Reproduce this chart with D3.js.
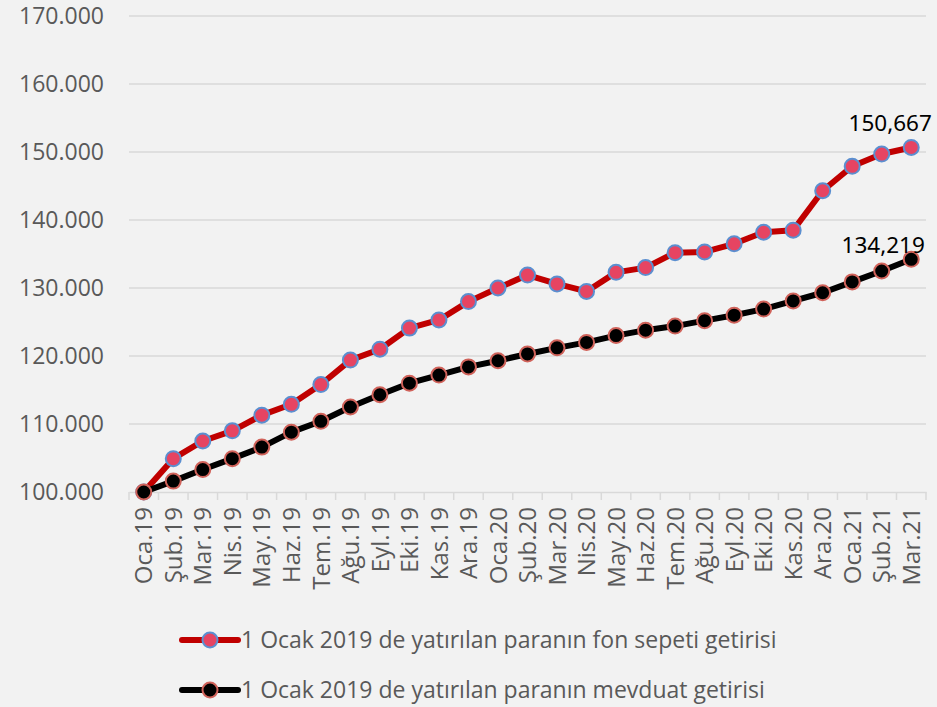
<!DOCTYPE html>
<meta charset="utf-8">
<title>Fon sepeti vs mevduat</title>
<style>
  body { margin: 0; background: #f2f2f2; }
  svg { display: block; }
  .tick-label { font-family: 'Open Sans', 'Noto Sans', sans-serif; fill: #595959; }
  .grid line { stroke: #d9d9d9; stroke-width: 1.5; }
</style>
<body>
<svg width="937" height="707"></svg>
<script src="https://cdn.jsdelivr.net/npm/d3@7"></script>
<script>
var months = ["Oca.19","Şub.19","Mar.19","Nis.19","May.19","Haz.19","Tem.19","Ağu.19","Eyl.19","Eki.19","Kas.19","Ara.19",
              "Oca.20","Şub.20","Mar.20","Nis.20","May.20","Haz.20","Tem.20","Ağu.20","Eyl.20","Eki.20","Kas.20","Ara.20",
              "Oca.21","Şub.21","Mar.21"];

var fonSepeti = [100, 104.9, 107.5, 109.0, 111.3, 112.9, 115.8, 119.4, 121.0, 124.1, 125.3, 128.0,
                 130.0, 131.9, 130.6, 129.5, 132.3, 133.0, 135.2, 135.3, 136.5, 138.2, 138.5, 144.3,
                 147.9, 149.7, 150.667];

var mevduat = [100, 101.6, 103.3, 104.9, 106.6, 108.8, 110.4, 112.5, 114.3, 116.0, 117.2, 118.4,
               119.3, 120.3, 121.2, 122.0, 123.0, 123.8, 124.4, 125.2, 126.0, 126.9, 128.1, 129.3,
               130.9, 132.5, 134.219];

var yTicks = [100, 110, 120, 130, 140, 150, 160, 170];
var yTickLabels = ["100.000","110.000","120.000","130.000","140.000","150.000","160.000","170.000"];
var legendNames = ["1 Ocak 2019 de yatırılan paranın fon sepeti getirisi",
                   "1 Ocak 2019 de yatırılan paranın mevduat getirisi"];
var endLabels = ["150,667", "134,219"];

var svg = d3.select("svg");

var x = d3.scaleBand().domain(months).range([129, 926]).padding(0);
var y = d3.scaleLinear().domain([100, 170]).range([492, 16]);
var cx = function(d, i) { return x(months[i]) + x.bandwidth() / 2; };

// grid
svg.append("g").attr("class", "grid")
  .selectAll("line").data(yTicks.slice(1)).enter().append("line")
  .attr("x1", 129).attr("x2", 926)
  .attr("y1", function(d) { return y(d); }).attr("y2", function(d) { return y(d); });

// y labels
svg.append("g").selectAll("text").data(yTicks).enter().append("text")
  .attr("class", "tick-label")
  .attr("x", 104).attr("y", function(d) { return y(d); })
  .attr("dy", "0.36em")
  .attr("text-anchor", "end")
  .style("font-size", "23px")
  .text(function(d, i) { return yTickLabels[i]; });

// x axis
var xa = svg.append("g").attr("transform", "translate(0,492)")
  .call(d3.axisBottom(x).tickSize(0).tickFormat(""));
xa.select(".domain").attr("stroke", "#d9d9d9").attr("stroke-width", 1.5);
xa.selectAll(".tick").remove();
xa.selectAll(".sep").data(d3.range(months.length + 1)).enter().append("line")
  .attr("x1", function(i) { return 129 + i * x.step(); })
  .attr("x2", function(i) { return 129 + i * x.step(); })
  .attr("y1", 0).attr("y2", 8)
  .attr("stroke", "#d9d9d9").attr("stroke-width", 1.5);

svg.append("g").selectAll("text").data(months).enter().append("text")
  .attr("class", "tick-label")
  .attr("transform", function(d) { return "translate(" + (x(d) + x.bandwidth() / 2) + ",507) rotate(-90)"; })
  .attr("dy", "0.36em")
  .attr("text-anchor", "end")
  .style("font-size", "24px")
  .text(function(d) { return d; });

var series = [
  { values: fonSepeti, line: "#c00000", fill: "#e64462", stroke: "#5b8fd0" },
  { values: mevduat, line: "#000000", fill: "#000000", stroke: "#d0625a" }
];

var line = d3.line().x(cx).y(function(d) { return y(d); });

series.forEach(function(s) {
  svg.append("path").datum(s.values)
    .attr("d", line)
    .attr("fill", "none")
    .attr("stroke", s.line)
    .attr("stroke-width", 6)
    .attr("stroke-linejoin", "round");
  svg.append("g").selectAll("circle").data(s.values).enter().append("circle")
    .attr("cx", cx).attr("cy", function(d) { return y(d); })
    .attr("r", 7.5)
    .attr("fill", s.fill)
    .attr("stroke", s.stroke)
    .attr("stroke-width", 2);
});

// end value labels
var last = months.length - 1;
svg.append("text")
  .attr("x", cx(null, last) - 21).attr("y", y(fonSepeti[last]) - 16)
  .attr("text-anchor", "middle")
  .style("font-family", "'Noto Sans', sans-serif").style("font-size", "22.5px").attr("fill", "#000")
  .text(endLabels[0]);
svg.append("text")
  .attr("x", cx(null, last) - 28).attr("y", y(mevduat[last]) - 6)
  .attr("text-anchor", "middle")
  .style("font-family", "'Noto Sans', sans-serif").style("font-size", "22.5px").attr("fill", "#000")
  .text(endLabels[1]);

// legend
var leg = svg.append("g").selectAll("g").data(series).enter().append("g")
  .attr("transform", function(d, i) { return "translate(0," + (640 + i * 50) + ")"; });
leg.append("line").attr("x1", 182).attr("x2", 238)
  .attr("stroke", function(d) { return d.line; }).attr("stroke-width", 6).attr("stroke-linecap", "round");
leg.append("circle").attr("cx", 210).attr("r", 7.5)
  .attr("fill", function(d) { return d.fill; })
  .attr("stroke", function(d) { return d.stroke; }).attr("stroke-width", 2);
leg.append("text").attr("class", "tick-label")
  .attr("x", 241).attr("dy", "0.36em")
  .style("font-size", "23px")
  .text(function(d, i) { return legendNames[i]; });
</script>
</body>
